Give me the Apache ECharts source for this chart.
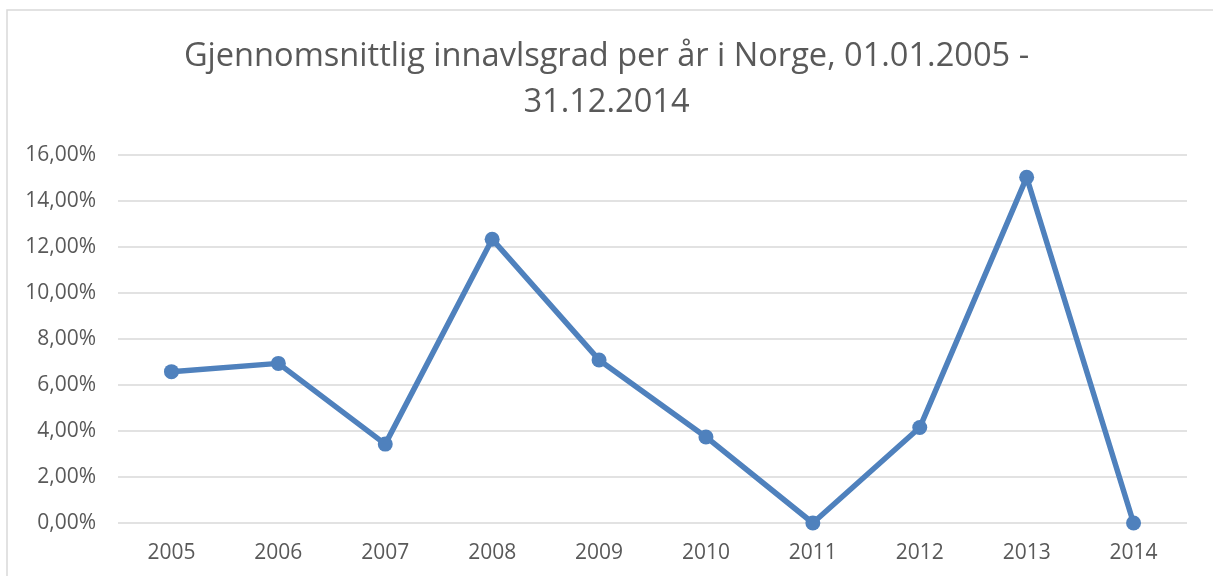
<!DOCTYPE html>
<html>
<head>
<meta charset="utf-8">
<script src="https://cdn.jsdelivr.net/npm/echarts@6/dist/echarts.min.js"></script>
<style>
    html, body { margin: 0; padding: 0; background: #fff; }
    #chart { width: 1213px; height: 576px; }
</style>
</head>
<body>
<div id="chart"></div>
<script>
// data
var years = ['2005', '2006', '2007', '2008', '2009', '2010', '2011', '2012', '2013', '2014'];
var innavl = [6.58, 6.94, 3.43, 12.34, 7.09, 3.74, 0, 4.15, 15.03, 0];
var yTicks = [0, 2, 4, 6, 8, 10, 12, 14, 16];

var dom = document.getElementById('chart');
var myChart = echarts.init(dom);

var textColor = '#595959';
var font = '"Open Sans", sans-serif';

var option = {
    backgroundColor: '#fff',
    animation: false,
    title: {
        text: 'Gjennomsnittlig innavlsgrad per år i Norge, 01.01.2005 -\n31.12.2014',
        left: 'center',
        top: 29,
        textStyle: {
            color: textColor,
            fontFamily: font,
            fontWeight: 'normal',
            fontSize: 32.6,
            lineHeight: 46
        }
    },
    // thin frame like the excel chart area
    graphic: [{
        type: 'rect',
        shape: { x: 7, y: 10, width: 1220, height: 580 },
        style: { fill: 'none', stroke: '#d9d9d9', lineWidth: 1.5 },
        silent: true
    }],
    grid: {
        left: 118,
        right: 26,
        top: 155,
        bottom: 53,
        containLabel: false
    },
    xAxis: {
        type: 'category',
        data: years,
        boundaryGap: true,
        axisLine: { show: false },
        axisTick: { show: false },
        axisLabel: {
            color: textColor,
            fontFamily: font,
            fontSize: 21,
            margin: 20
        }
    },
    yAxis: {
        type: 'value',
        min: yTicks[0],
        max: yTicks[yTicks.length - 1],
        interval: 2,
        axisLine: { show: false },
        axisTick: { show: false },
        splitLine: { lineStyle: { color: '#d9d9d9', width: 1.5 } },
        axisLabel: {
            color: textColor,
            fontFamily: font,
            fontSize: 21,
            margin: 22,
            formatter: function(v) {
                return v.toFixed(2).replace('.', ',') + '%';
            }
        }
    },
    series: [{
        type: 'line',
        data: innavl,
        symbol: 'circle',
        symbolSize: 15,
        lineStyle: { color: '#4f81bd', width: 5.5 },
        itemStyle: { color: '#4f81bd' }
    }]
};

myChart.setOption(option);

window.onresize = function() {
    myChart.resize();
};
</script>
</body>
</html>
